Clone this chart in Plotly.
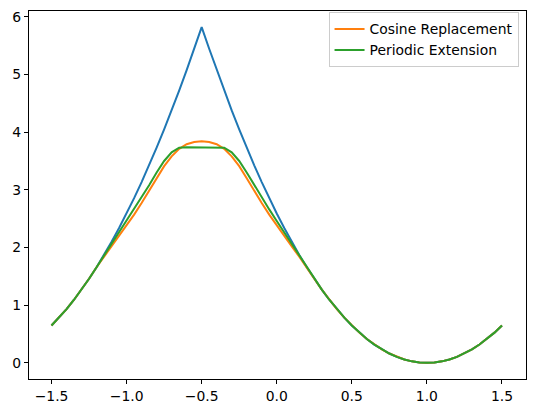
import plotly.graph_objects as go

x_vals = [-1.5, -1.45, -1.4, -1.35, -1.3, -1.25, -1.2, -1.15, -1.1, -1.05,
          -1.0, -0.95, -0.9, -0.85, -0.8, -0.75, -0.7, -0.65, -0.6, -0.55,
          -0.5, -0.45, -0.4, -0.35, -0.3, -0.25, -0.2, -0.15, -0.1, -0.05,
          0.0, 0.05, 0.1, 0.15, 0.2, 0.25, 0.3, 0.35, 0.4, 0.45,
          0.5, 0.55, 0.6, 0.65, 0.7, 0.75, 0.8, 0.85, 0.9, 0.95,
          1.0, 1.05, 1.1, 1.15, 1.2, 1.25, 1.3, 1.35, 1.4, 1.45, 1.5]

original = [0.648, 0.783, 0.932, 1.094, 1.269, 1.457, 1.658, 1.871, 2.098, 2.337,
            2.590, 2.855, 3.134, 3.425, 3.730, 4.047, 4.377, 4.720, 5.076, 5.445,
            5.820, 5.445, 5.076, 4.720, 4.377, 4.047, 3.730, 3.425, 3.134, 2.855,
            2.590, 2.337, 2.098, 1.871, 1.658, 1.457, 1.269, 1.094, 0.932, 0.783,
            0.648, 0.524, 0.414, 0.317, 0.233, 0.162, 0.104, 0.058, 0.026, 0.006,
            0.0, 0.006, 0.026, 0.058, 0.104, 0.162, 0.233, 0.317, 0.414, 0.524, 0.648]

cosine_replacement = [0.648, 0.783, 0.932, 1.094, 1.269, 1.457, 1.658, 1.84, 2.02, 2.20,
                      2.38, 2.57, 2.77, 2.98, 3.20, 3.41, 3.58, 3.71, 3.79, 3.83,
                      3.84, 3.83, 3.79, 3.71, 3.58, 3.41, 3.20, 2.98, 2.77, 2.57,
                      2.38, 2.20, 2.02, 1.84, 1.658, 1.457, 1.269, 1.094, 0.932, 0.783,
                      0.648, 0.524, 0.414, 0.317, 0.233, 0.162, 0.104, 0.058, 0.026, 0.006,
                      0.0, 0.006, 0.026, 0.058, 0.104, 0.162, 0.233, 0.317, 0.414, 0.524, 0.648]

periodic_extension = [0.648, 0.783, 0.932, 1.094, 1.269, 1.457, 1.658, 1.86, 2.06, 2.26,
                      2.46, 2.66, 2.87, 3.08, 3.30, 3.50, 3.65, 3.73, 3.74, 3.74,
                      3.74, 3.74, 3.74, 3.73, 3.65, 3.50, 3.30, 3.08, 2.87, 2.66,
                      2.46, 2.26, 2.06, 1.86, 1.658, 1.457, 1.269, 1.094, 0.932, 0.783,
                      0.648, 0.524, 0.414, 0.317, 0.233, 0.162, 0.104, 0.058, 0.026, 0.006,
                      0.0, 0.006, 0.026, 0.058, 0.104, 0.162, 0.233, 0.317, 0.414, 0.524, 0.648]

x_tick_vals = [-1.5, -1.0, -0.5, 0.0, 0.5, 1.0, 1.5]
x_tick_text = ["\u22121.5", "\u22121.0", "\u22120.5", "0.0", "0.5", "1.0", "1.5"]
y_tick_vals = [0, 1, 2, 3, 4, 5, 6]
y_tick_text = ["0", "1", "2", "3", "4", "5", "6"]

fig = go.Figure()
fig.add_trace(go.Scatter(x=x_vals, y=original, mode="lines",
                         line=dict(color="#1f77b4", width=2), showlegend=False))
fig.add_trace(go.Scatter(x=x_vals, y=cosine_replacement, mode="lines", name="Cosine Replacement",
                         line=dict(color="#ff7f0e", width=2)))
fig.add_trace(go.Scatter(x=x_vals, y=periodic_extension, mode="lines", name="Periodic Extension",
                         line=dict(color="#2ca02c", width=2)))

font = dict(family="DejaVu Sans", size=13.9, color="black")
axis_common = dict(showline=True, mirror=True, linecolor="black", linewidth=1.1,
                   ticks="outside", ticklen=4, tickwidth=1.1, tickcolor="black",
                   showgrid=False, zeroline=False, tickfont=font, automargin=False)

fig.update_layout(
    width=534, height=413,
    margin=dict(l=29, r=8, t=11, b=34),
    paper_bgcolor="white", plot_bgcolor="white",
    font=font,
    xaxis=dict(range=[-1.65, 1.66], tickvals=x_tick_vals, ticktext=x_tick_text, **axis_common),
    yaxis=dict(range=[-0.28, 6.10], tickvals=y_tick_vals, ticktext=y_tick_text, **axis_common),
    legend=dict(x=0.985, y=0.996, xanchor="right", yanchor="top",
                bgcolor="rgba(255,255,255,0.8)", bordercolor="#cccccc", borderwidth=1,
                font=font, itemwidth=30, tracegroupgap=0),
)

fig.write_html("out.html")
